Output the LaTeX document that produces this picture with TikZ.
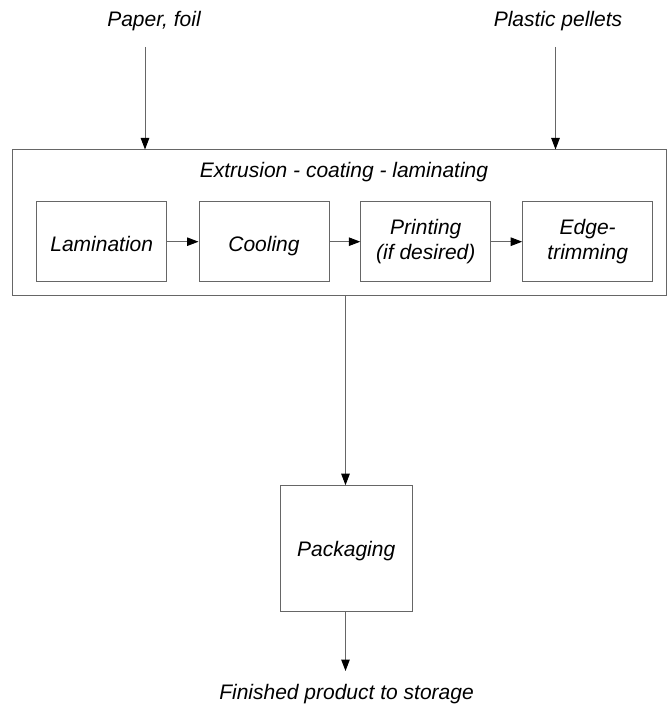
\documentclass[tikz,border=0pt]{standalone}
\usepackage{fontspec}
\setmainfont{Liberation Sans}
\usetikzlibrary{arrows.meta}
\definecolor{linegray}{HTML}{666666}
\tikzset{
  lbl/.style={font=\fontsize{21}{25}\selectfont\itshape, inner sep=0pt, align=center},
  stepbox/.style={draw=linegray, line width=1pt, minimum width=130pt, minimum height=80pt,
                  inner sep=0pt, align=center, font=\fontsize{21}{25}\selectfont\itshape},
  oneline/.style={text height=20pt, text depth=0pt},
  flow/.style={draw=linegray, line width=1pt, -{Triangle[length=11.5pt,width=8.5pt,fill=black,color=black]}},
}
\begin{document}
\begin{tikzpicture}[x=1pt,y=-1pt]
\useasboundingbox (0,0) rectangle (667,711);

% inputs
\node[lbl] (paper) at (154,21) {Paper, foil};
\node[lbl] (pellets) at (558,21) {Plastic pellets};
\coordinate (paperstart) at (145,47);
\coordinate (pelletstart) at (555.5,47);

% enclosing process box
\node[draw=linegray, line width=1pt, minimum width=653.5pt, minimum height=145.7pt, inner sep=0pt]
  (outer) at (339.45,222.85) {};
\node[lbl] (title) at (344,172) {Extrusion - coating - laminating};

% process steps
\node[stepbox, oneline] (lam) at (101.7,241.7) {Lamination};
\node[stepbox, oneline] (cool) at (264,241.7) {Cooling};
\node[stepbox] (print) at (425.8,241.7) {Printing\\(if desired)};
\node[stepbox] (edge) at (587.7,241.7) {Edge-\\trimming};

% packaging and output
\node[stepbox, minimum width=132pt, minimum height=126pt, text height=20pt, text depth=4pt]
  (pack) at (346.2,548.7) {Packaging};
\node[lbl] (final) at (346.5,694) {Finished product to storage};
\coordinate (finalend) at (345.5,671);

% connectors
\draw[flow] (paperstart) -- (paperstart |- outer.north);
\draw[flow] (pelletstart) -- (pelletstart |- outer.north);
\draw[flow] (lam) -- (cool);
\draw[flow] (cool) -- (print);
\draw[flow] (print) -- (edge);
\draw[flow] (finalend |- outer.south) -- (finalend |- pack.north);
\draw[flow] (finalend |- pack.south) -- (finalend);
\end{tikzpicture}
\end{document}
